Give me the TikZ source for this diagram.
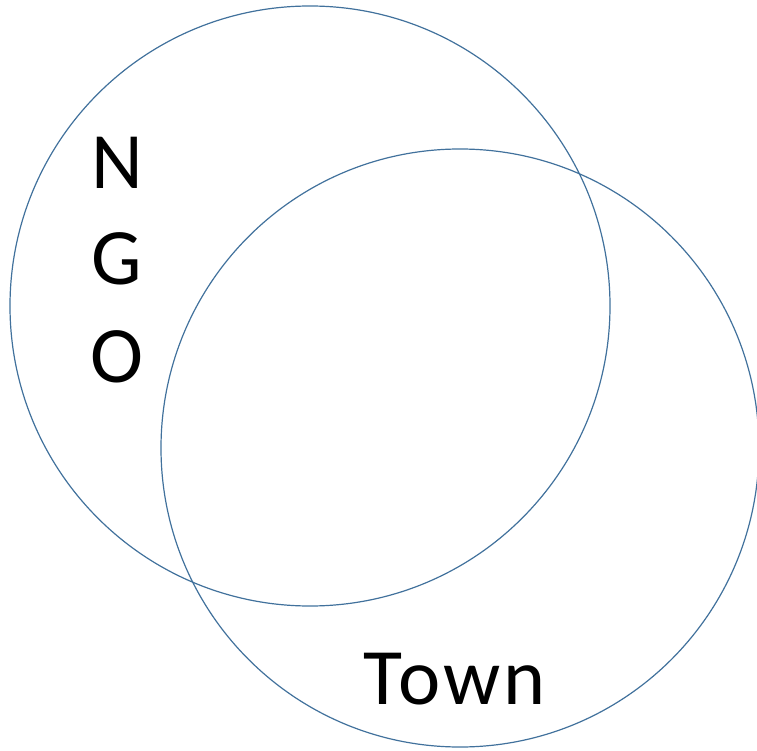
\documentclass[tikz,border=0pt]{standalone}
\usepackage{fontspec}
\setmainfont{Carlito}
\begin{document}
\begin{tikzpicture}[x=1pt,y=-1pt,
  venn/.style={draw={rgb,255:red,65;green,113;blue,156}, line width=1.2pt},
  lbl/.style={font=\fontsize{80}{96}\selectfont, inner sep=0pt, anchor=base}]
\useasboundingbox (0,0) rectangle (757,751);
\node[venn, circle, minimum size=600pt, inner sep=0pt] (ngo) at (310,306) {};
\node[venn, circle, minimum size=598pt, inner sep=0pt] (town) at (460,448) {};
\node[lbl] (n) at (117,189) {N};
\node[lbl] (g) at (117,284.5) {G};
\node[lbl] (o) at (117,382) {O};
\node[lbl, anchor=base west] (t) at (363,704) {\addfontfeature{LetterSpace=4}Town};
\end{tikzpicture}
\end{document}
